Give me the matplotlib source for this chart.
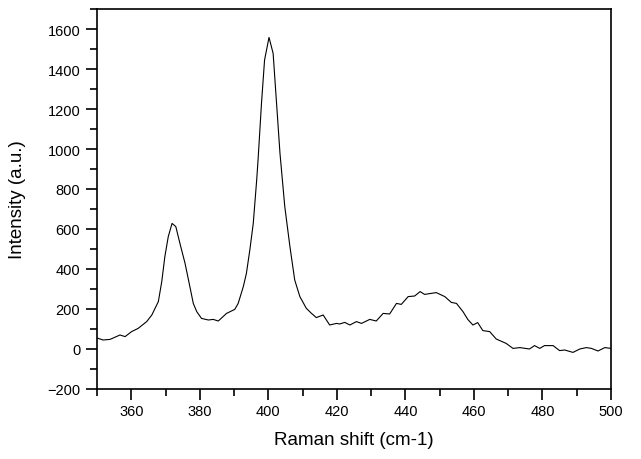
import matplotlib
matplotlib.use("Agg")
import matplotlib.pyplot as plt
from matplotlib.ticker import MultipleLocator

plt.rcParams['font.family'] = ['Liberation Sans', 'DejaVu Sans']

raman_shift = [350.0, 351.8, 353.8, 356.7, 358.2, 360.1, 362.0, 364.5, 366.0, 367.9,
               368.9, 369.8, 370.8, 371.9, 373.0, 374.2, 375.7, 377.1, 378.1, 379.1,
               380.5, 382.5, 383.9, 385.4, 387.8, 390.2, 391.2, 392.7, 393.6, 394.6,
               395.6, 396.6, 397.0, 398.0, 398.9, 400.2, 401.4, 402.4, 403.4, 404.8,
               406.3, 407.7, 409.2, 411.1, 412.6, 414.0, 416.0, 417.9, 419.9, 420.8,
               422.3, 423.8, 425.7, 427.2, 429.6, 431.5, 433.5, 435.4, 437.4, 438.8,
               440.8, 442.7, 444.3, 445.6, 449.0, 451.5, 453.4, 454.9, 456.8, 458.2,
               459.7, 461.1, 462.6, 464.6, 466.5, 469.4, 471.4, 473.4, 476.2, 477.7,
               479.2, 480.6, 483.1, 485.0, 486.5, 488.9, 490.9, 492.8, 494.3, 496.2,
               498.2, 500.0]
intensity = [55, 45, 48, 70, 62, 87, 103, 137, 170, 237,
             337, 462, 562, 628, 612, 528, 428, 312, 228, 187,
             153, 145, 148, 140, 178, 198, 228, 312, 378, 495,
             628, 845, 945, 1228, 1445, 1558, 1478, 1228, 978, 712,
             512, 345, 262, 203, 178, 157, 170, 120, 128, 125,
             133, 120, 137, 128, 148, 140, 178, 175, 228, 223,
             262, 265, 287, 273, 282, 262, 233, 228, 187, 148,
             120, 132, 92, 87, 50, 28, 3, 7, 0, 17,
             3, 17, 17, -8, -5, -17, 0, 7, 3, -10,
             7, 3]

fig = plt.figure(figsize=(6.41, 4.60), dpi=100)
ax = fig.add_axes([97/641, 70/460, 514/641, 380/460])
ax.plot(raman_shift, intensity, color='black', linewidth=0.8)

ax.set_xlim(350, 500)
ax.set_ylim(-200, 1700)
ax.xaxis.set_major_locator(MultipleLocator(20))
ax.xaxis.set_minor_locator(MultipleLocator(10))
ax.yaxis.set_major_locator(MultipleLocator(200))
ax.yaxis.set_minor_locator(MultipleLocator(100))
ax.set_xticks([360, 380, 400, 420, 440, 460, 480, 500])
ax.tick_params(which='major', direction='out', length=8, width=1.2, labelsize=10.5)
ax.tick_params(axis='y', which='major', pad=4)
ax.tick_params(axis='x', which='major', pad=3)
ax.tick_params(which='minor', direction='out', length=5, width=1.2)
ax.tick_params(top=False, right=False, which='both')
for s in ax.spines.values():
    s.set_linewidth(1.2)

ax.set_xlabel('Raman shift (cm-1)', fontsize=13.5, labelpad=9)
ax.set_ylabel('Intensity (a.u.)', fontsize=13.5, labelpad=15)

fig.savefig('out.png', dpi=100)
